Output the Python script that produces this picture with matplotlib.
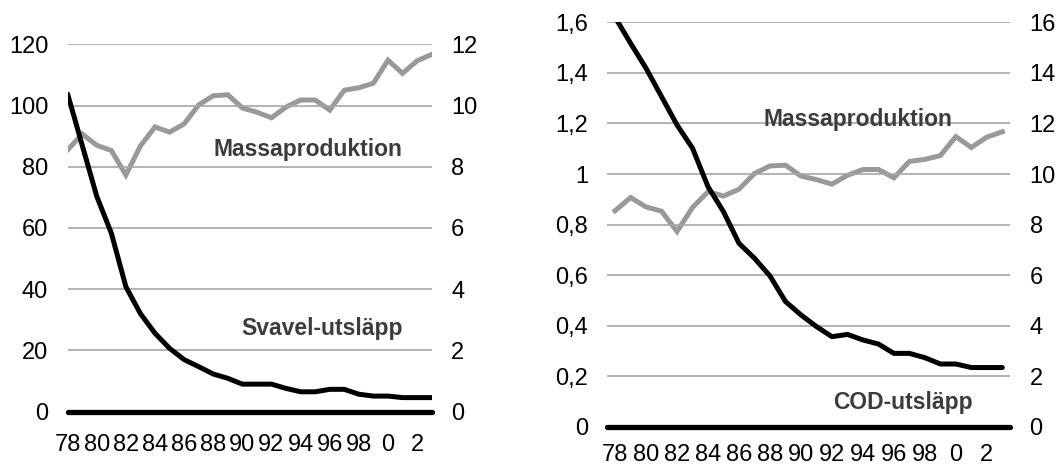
import matplotlib.pyplot as plt

plt.rcParams['font.family'] = ['Liberation Sans', 'DejaVu Sans']

# years 1978-2003
years = list(range(1978, 2004))
year_labels = [str(y % 100) if y % 2 == 0 else "" for y in years]

# Massaproduktion (right axes)
massa = [8.55, 9.07, 8.7, 8.53, 7.73, 8.68, 9.3, 9.13, 9.4, 10.02, 10.32, 10.35, 9.92,
         9.78, 9.6, 9.95, 10.18, 10.18, 9.85, 10.5, 10.58, 10.73, 11.48, 11.05, 11.46, 11.67]

# Svavel-utsläpp (left panel, left axis)
svavel = [103.7, 87, 70.3, 58.3, 40.8, 32, 25.6, 20.7, 17, 14.7, 12.3, 10.9, 9,
          9, 9, 7.6, 6.5, 6.5, 7.3, 7.3, 5.7, 5.1, 5.1, 4.6, 4.6, 4.6]

# COD-utsläpp (right panel, left axis)
cod = [1.62, 1.517, 1.418, 1.306, 1.194, 1.102, 0.95, 0.851, 0.726, 0.667, 0.597, 0.496, 0.443,
       0.397, 0.357, 0.366, 0.344, 0.328, 0.291, 0.291, 0.274, 0.249, 0.249, 0.235, 0.235, 0.235]

BLACK = "#000000"
GRAY = "#999999"
GRID = "#a6a6a6"
TEXT = "#3c3c3c"
FS = 17
LFS = 16.5


def setup(ax, ax2, ylim, yticks, ylabels, y2lim, y2ticks, xlim, xpad):
    x = range(len(years))
    ax.set_xlim(*xlim)
    ax.set_ylim(*ylim)
    ax2.set_ylim(*y2lim)
    ax.set_yticks(yticks)
    ax.set_yticklabels(ylabels)
    ax2.set_yticks(y2ticks)
    ax2.set_yticklabels([str(v) for v in y2ticks])
    ax.set_xticks(list(x))
    ax.set_xticklabels(year_labels)
    for a in (ax, ax2):
        for s in a.spines.values():
            s.set_visible(False)
    ax.tick_params(axis="y", length=0, pad=14, labelsize=FS)
    ax2.tick_params(axis="y", length=0, pad=14, labelsize=FS)
    ax.tick_params(axis="x", length=0, pad=xpad, labelsize=FS)
    for t in yticks:
        if t != 0:
            ax.axhline(t, color=GRID, lw=1.2, zorder=0)
    # thick zero line with rounded ends
    ax.axhline(0, color=BLACK, lw=3.8, solid_capstyle="round", zorder=3, clip_on=False)
    ax.set_zorder(ax2.get_zorder() + 1)
    ax.patch.set_visible(False)


fig = plt.figure(figsize=(10.59, 4.69), dpi=100)
x = list(range(len(years)))

# left panel
ax = fig.add_axes([0.0639, 0.1222, 0.3437, 0.7834])
ax2 = ax.twinx()
ax2.plot(x, massa, color=GRAY, lw=3.6, solid_joinstyle="miter")
ax.plot(x, svavel, color=BLACK, lw=3.6, solid_capstyle="round", zorder=4)
setup(ax, ax2, (0, 120), [0, 20, 40, 60, 80, 100, 120],
      ["0", "20", "40", "60", "80", "100", "120"],
      (0, 12), [0, 2, 4, 6, 8, 10, 12], (0, 25), 16)
ax.text(23, 85.5, "Massaproduktion", ha="right", va="center", fontsize=LFS,
        fontweight="bold", color=TEXT)
ax.text(23, 27.3, "Svavel-utsläpp", ha="right", va="center", fontsize=LFS,
        fontweight="bold", color=TEXT)

# right panel
bx = fig.add_axes([0.5735, 0.0896, 0.3803, 0.8629])
bx2 = bx.twinx()
bx2.plot(x, massa, color=GRAY, lw=3.6, solid_joinstyle="miter")
bx.plot(x, cod, color=BLACK, lw=3.6, solid_capstyle="round", zorder=4)
setup(bx, bx2, (0, 1.6), [0, 0.2, 0.4, 0.6, 0.8, 1.0, 1.2, 1.4, 1.6],
      ["0", "0,2", "0,4", "0,6", "0,8", "1", "1,2", "1,4", "1,6"],
      (0, 16), [0, 2, 4, 6, 8, 10, 12, 14, 16], (-0.5, 25.5), 12)
bx.text(21.8, 1.217, "Massaproduktion", ha="right", va="center", fontsize=LFS,
        fontweight="bold", color=TEXT)
bx.text(23.1, 0.096, "COD-utsläpp", ha="right", va="center", fontsize=LFS,
        fontweight="bold", color=TEXT)

fig.savefig("out.png", dpi=100)
